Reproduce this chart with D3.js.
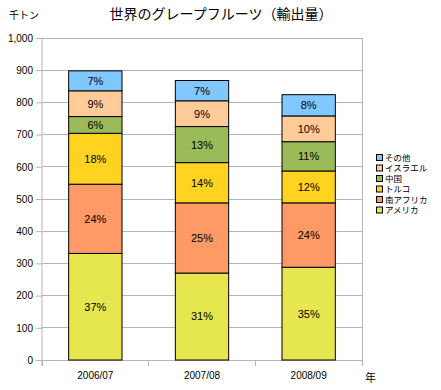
<!DOCTYPE html>
<html><head><meta charset="utf-8">
<script src="https://cdn.jsdelivr.net/npm/d3@7"></script>
<style>body{margin:0;background:#fff;}svg{display:block;font-family:"Liberation Sans",Arial,sans-serif;}</style>
</head><body>
<script>
const categories = ["2006/07","2007/08","2008/09"];
const seriesNames = ["アメリカ","南アフリカ","トルコ","中国","イスラエル","その他"];
const usa = [331,270,288];
const southAfrica = [215,218,200];
const turkey = [158,125,99];
const china = [52,112,91];
const israel = [80,80,80];
const other = [62,63,66];
const seriesColors = ["#e6e64e","#ff9966","#ffd320","#9bbb59","#ffcc99","#80c8ff"];
const yTicks = [0,100,200,300,400,500,600,700,800,900,1000];

const W=441,H=390, L=42, R=362, T=38, B=360;
const svg=d3.select("body").append("svg").attr("width",W).attr("height",H);
const x=d3.scaleBand().domain(categories).range([L,R]).paddingInner(0.5).paddingOuter(0.25);
const y=d3.scaleLinear().domain([0,1000]).range([B,T]);

// grid
svg.append("g").selectAll("line").data(yTicks.filter(d=>d>0)).join("line")
  .attr("x1",L).attr("x2",R).attr("y1",d=>y(d)).attr("y2",d=>y(d))
  .attr("stroke","#b4b4b4").attr("stroke-width",1).attr("shape-rendering","crispEdges");
svg.append("line").attr("x1",R).attr("x2",R).attr("y1",T).attr("y2",B)
  .attr("stroke","#b4b4b4").attr("shape-rendering","crispEdges");

// y axis
const ya=svg.append("g").attr("transform",`translate(${L},0)`)
  .call(d3.axisLeft(y).tickValues(yTicks).tickSize(6).tickPadding(3).tickFormat(d3.format(",")));
ya.select(".domain").attr("stroke","#b4b4b4").attr("d",`M0,${T}V${B+6}`);
ya.selectAll(".tick line").attr("stroke","#b4b4b4");
ya.selectAll("text").attr("font-size",10).attr("fill","#000");

// x axis
const xa=svg.append("g").attr("transform",`translate(0,${B})`)
  .call(d3.axisBottom(x).tickSize(0).tickPadding(12));
xa.select(".domain").attr("stroke","#b4b4b4");
xa.selectAll("text").attr("font-size",10).attr("fill","#000");
svg.append("g").selectAll("line").data(d3.range(categories.length+1)).join("line")
  .attr("x1",i=>L+i*(R-L)/categories.length).attr("x2",i=>L+i*(R-L)/categories.length)
  .attr("y1",B).attr("y2",B+6).attr("stroke","#b4b4b4").attr("shape-rendering","crispEdges");

// stack
const seriesArrays=[usa,southAfrica,turkey,china,israel,other];
const table=categories.map((c,i)=>{const o={cat:c};seriesNames.forEach((s,j)=>o[s]=seriesArrays[j][i]);return o;});
const stack=d3.stack().keys(seriesNames)(table);
const totals=table.map(r=>d3.sum(seriesNames,s=>r[s]));
const g=svg.append("g");
stack.forEach((layer,j)=>{
  const lg=g.append("g");
  lg.selectAll("rect").data(layer).join("rect")
    .attr("x",d=>x(d.data.cat)).attr("width",x.bandwidth())
    .attr("y",d=>y(d[1])).attr("height",d=>y(d[0])-y(d[1]))
    .attr("fill",seriesColors[j]).attr("stroke","#000").attr("stroke-width",1);
  lg.selectAll("text").data(layer).join("text")
    .attr("x",d=>x(d.data.cat)+x.bandwidth()/2).attr("y",d=>(y(d[0])+y(d[1]))/2)
    .attr("text-anchor","middle").attr("dy","0.36em").attr("font-size",11).attr("fill","#000")
    .text((d,i)=>Math.round((d[1]-d[0])/totals[i]*100)+"%");
});

// title & units
svg.append("text").attr("x",221).attr("y",19).attr("text-anchor","middle")
  .attr("font-size",14).attr("font-family","'Noto Sans CJK JP',sans-serif").text("世界のグレープフルーツ（輸出量）");
svg.append("text").attr("x",9).attr("y",19).attr("font-size",10)
  .attr("font-family","'Noto Sans CJK JP',sans-serif").text("千トン");
svg.append("text").attr("x",365).attr("y",382).attr("font-size",11)
  .attr("font-family","'Noto Sans CJK JP',sans-serif").text("年");

// legend
const leg=svg.append("g");
const legOrder=d3.range(seriesNames.length).reverse();
legOrder.forEach((j,k)=>{
  const cy=158+k*10.5;
  leg.append("rect").attr("x",376.5).attr("y",cy-3.5).attr("width",6).attr("height",6)
    .attr("fill",seriesColors[j]).attr("stroke","#000").attr("stroke-width",1);
  leg.append("text").attr("x",385).attr("y",cy).attr("dy","0.35em").attr("font-size",8.5)
    .attr("font-family","'Noto Sans CJK JP',sans-serif").text(seriesNames[j]);
});
</script>
</body></html>
